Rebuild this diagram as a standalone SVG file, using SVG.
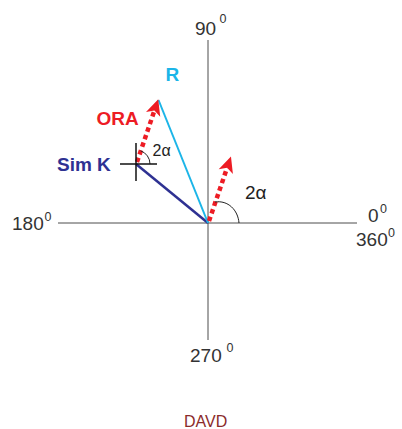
<svg xmlns="http://www.w3.org/2000/svg" width="402" height="429" viewBox="0 0 402 429">
<style>
.ax{stroke:#4d4d4d;stroke-width:1;fill:none}
.num{font-family:"Liberation Sans",Arial,sans-serif;font-size:19px;fill:#333}
.sup{font-family:"Liberation Sans",Arial,sans-serif;font-size:12.5px;fill:#333}
.lbl{font-family:"Liberation Sans",Arial,sans-serif;font-size:19px;font-weight:bold}
.red{stroke:#ed1c24;stroke-width:4.5;stroke-dasharray:4.5 3.5;fill:none}
.arc{stroke:#222;stroke-width:1;fill:none}
</style>
<defs>
<marker id="ah" markerUnits="userSpaceOnUse" markerWidth="20" markerHeight="20" refX="4" refY="0" orient="auto" overflow="visible" viewBox="-2 -10 20 20">
<path d="M16,0 L0,-7.5 L4,0 L0,7.5 Z" fill="#ed1c24"/>
</marker>
</defs>
<g id="axes">
<line class="ax" x1="208" y1="40" x2="208" y2="340"/>
<line class="ax" x1="58" y1="223" x2="357" y2="223"/>
</g>
<g id="labels-axes">
<text class="num" x="195" y="35">90</text><text class="sup" x="219.5" y="23">0</text>
<text class="num" x="12" y="229.5">180</text><text class="sup" x="44.5" y="221">0</text>
<text class="num" x="368" y="221.5">0</text><text class="sup" x="380" y="213">0</text>
<text class="num" x="356" y="246">360</text><text class="sup" x="388" y="237">0</text>
<text class="num" x="190" y="362">270</text><text class="sup" x="226.5" y="352">0</text>
</g>
<g id="connectors">
<line id="simk-line" x1="136" y1="164" x2="208" y2="223" stroke="#2e3192" stroke-width="2.5"/>
<line id="r-line" x1="158.5" y1="100" x2="208" y2="223" stroke="#1cb5e8" stroke-width="2"/>
<line id="ora-arrow" class="red" x1="137" y1="162" x2="154.4" y2="110.6" marker-end="url(#ah)"/>
<line id="right-arrow" class="red" x1="209" y1="221" x2="227.1" y2="167.8" marker-end="url(#ah)"/>
<path class="arc" d="M140.6,150.8 A14,14 0 0 1 150,164"/>
<path class="arc" d="M215,202 C228,200 238,210 239,223"/>
</g>
<g id="simk-cross">
<line x1="120" y1="164" x2="157" y2="164" stroke="#111" stroke-width="1.5"/>
<line x1="136" y1="143" x2="136" y2="181" stroke="#111" stroke-width="1.5"/>
</g>
<g id="node-R"><text class="lbl" x="165.5" y="80.5" fill="#1cb5e8">R</text></g>
<g id="node-ORA"><text class="lbl" x="96.5" y="125" fill="#ed1c24">ORA</text></g>
<g id="node-SimK"><text class="lbl" x="57" y="171" fill="#2e3192">Sim K</text></g>
<g id="angle-labels">
<text x="152.5" y="155.5" font-family="Liberation Sans,Arial,sans-serif" font-size="16" fill="#222">2α</text>
<text x="245" y="198.5" font-family="Liberation Sans,Arial,sans-serif" font-size="19" fill="#222">2α</text>
</g>
<g id="caption"><text x="184" y="427" font-family="Liberation Sans,Arial,sans-serif" font-size="16" fill="#8b2b2b">DAVD</text></g>
</svg>
